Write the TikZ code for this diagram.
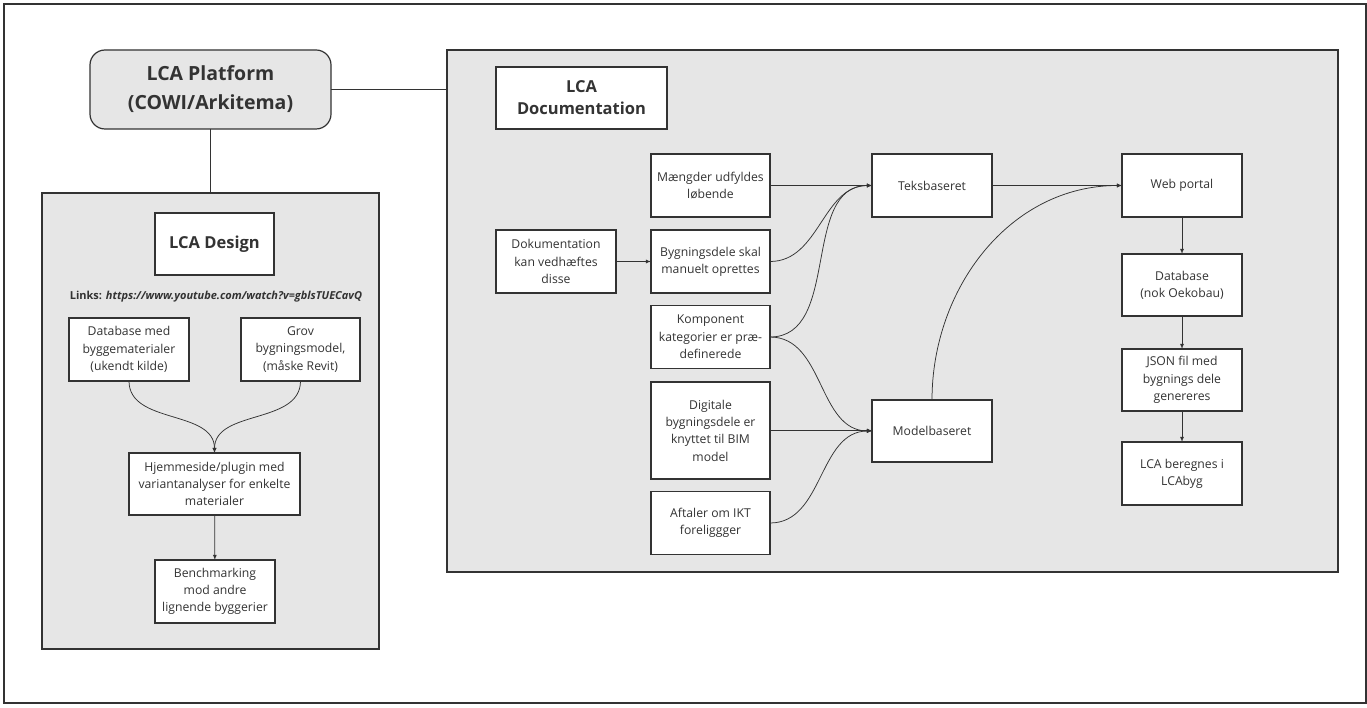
\documentclass[tikz,border=0pt]{standalone}
\usepackage{fontspec}
\setmainfont{Open Sans}
\usepackage{tikz}
\usetikzlibrary{arrows}

\definecolor{areagray}{HTML}{E6E6E6}
\definecolor{inkgray}{HTML}{333333}

\begin{document}
\begin{tikzpicture}[x=1pt, y=-1pt, >=latex,
    every node/.style={text=inkgray},
    area/.style={draw=inkgray, line width=1.2pt, fill=areagray, inner sep=0pt, outer sep=0pt},
    box/.style={draw=inkgray, line width=1.2pt, fill=white, align=center, inner sep=0pt, outer sep=0pt,
      minimum width=120, minimum height=63, font=\fontsize{12.2}{17.3}\selectfont},
    titlebox/.style={box, font=\fontsize{16.5}{22}\selectfont\bfseries},
    link/.style={draw=inkgray, line width=0.75pt}]
    % canvas and frame
    \fill[white] (0,0) rectangle (1367,708);
    \useasboundingbox (0,0) rectangle (1367,708);
    \draw[inkgray, line width=1.2pt] (4,4) rectangle (1366,703);

    % platform and the two areas
    \node[area, rounded corners=15pt, minimum width=241, minimum height=79, align=center,
      font=\fontsize{19.5}{29}\selectfont\bfseries] (plat) at (210.5,89.5) {LCA Platform\\(COWI/Arkitema)};
    \node[area, minimum width=337, minimum height=456] (designarea) at (210.5,421) {};
    \node[area, minimum width=891, minimum height=522] (docarea) at (892.5,311) {};
    \draw[link] (plat.south) -- (designarea.north);
    \draw[link] (plat.east) -- (plat.east -| docarea.west);

    % LCA Design
    \node[titlebox, minimum width=119, minimum height=62] (designtitle) at (214.5,244) {LCA Design};
    \node[font=\fontsize{11}{13}\selectfont] (links) at (216,297)
      {\textbf{Links:} \textbf{\textit{https://www.youtube.com/watch?v=gblsTUECavQ}}};
    \node[box] (dbase) at (129,349.5) {Database med\\byggematerialer\\(ukendt kilde)};
    \node[box, minimum width=119] (grov) at (300.5,349.5) {Grov\\bygningsmodel,\\(måske Revit)};
    \node[box, minimum width=171, minimum height=62] (hjem) at (214.5,484)
      {Hjemmeside/plugin med\\variantanalyser for enkelte\\materialer};
    \node[box] (bench) at (215,591.5) {Benchmarking\\mod andre\\lignende byggerier};

    \draw[link, ->] (dbase.south) to[out=-90, in=90] (hjem.north);
    \draw[link, ->] (grov.south) to[out=-90, in=90] (hjem.north);
    \draw[link, ->] (hjem) -- (bench);

    % LCA Documentation
    \node[titlebox, minimum width=171, minimum height=62] (doctitle) at (581.5,98) {LCA\\Documentation};
    \node[box, minimum width=119] (maengder) at (710.5,185.5) {Mængder udfyldes\\løbende};
    \node[box] (dokum) at (556,261.5) {Dokumentation\\kan vedhæftes\\disse};
    \node[box, minimum width=119] (bygn) at (710.5,261.5) {Bygningsdele skal\\manuelt oprettes};
    \node[box, minimum width=119] (komp) at (710.5,337) {Komponent\\kategorier er præ-\\definerede};
    \node[box, minimum width=119, minimum height=97] (digit) at (710.5,430.5)
      {Digitale\\bygningsdele er\\knyttet til BIM\\model};
    \node[box, minimum width=119] (aftal) at (710.5,523) {Aftaler om IKT\\foreliggger};
    \node[box] (teks) at (932,185.5) {Teksbaseret};
    \node[box, minimum height=62] (model) at (932,431) {Modelbaseret};
    \node[box] (web) at (1182,185.5) {Web portal};
    \node[box, minimum height=62] (dbok) at (1182,285) {Database\\(nok Oekobau)};
    \node[box, minimum height=62] (json) at (1182,380) {JSON fil med\\bygnings dele\\genereres};
    \node[box] (lcab) at (1182,473.5) {LCA beregnes i\\LCAbyg};

    \draw[link, ->] (dokum) -- (bygn);
    \draw[link, ->] (maengder) -- (teks);
    \foreach \src in {bygn,komp}
      \draw[link, ->] (\src.east) to[out=0, in=180] (teks.west);
    \foreach \src in {komp,aftal}
      \draw[link, ->] (\src.east) to[out=0, in=180] (model.west);
    \draw[link, ->] (digit.east) -- (digit.east -| model.west);
    \draw[link, ->] (teks) -- (web);
    \draw[link, ->] (model.north) to[out=90, in=180] (web.west);
    \draw[link, ->] (web) -- (dbok);
    \draw[link, ->] (dbok) -- (json);
    \draw[link, ->] (json) -- (lcab);
\end{tikzpicture}
\end{document}
